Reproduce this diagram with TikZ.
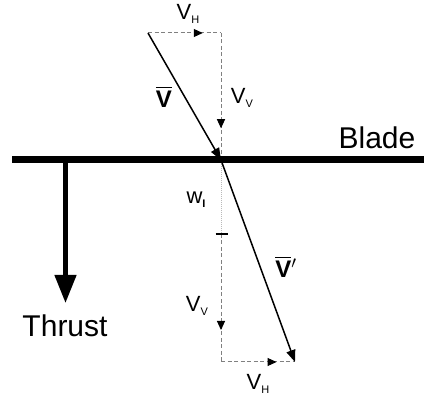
\documentclass[tikz,border=0pt]{standalone}
\usepackage{amsmath}
\usepackage{fontspec}
\setmainfont{Liberation Sans}
\usetikzlibrary{arrows.meta,decorations.markings}
\newcommand{\vsub}[2]{#1\raisebox{-0.35ex}{\fontsize{11}{12}\selectfont #2}}
\newcommand{\vvec}{$\overline{\text{\bfseries V}}$}
\tikzset{
	comp/.style={gray, line width=1pt, dash pattern=on 4pt off 2.5pt},
	midtip/.style={postaction={decorate}, decoration={markings,
		mark=at position 0.75 with {\arrow[black,solid]{Triangle[length=9pt,width=8pt]}}}},
	lbl/.style={inner sep=0pt, font=\fontsize{22}{24}\selectfont},
	vlbl/.style={inner sep=0pt, font=\fontsize{24}{26}\selectfont},
	big/.style={inner sep=0pt, font=\fontsize{30}{32}\selectfont}
}

\begin{document}
\begin{tikzpicture}[x=1pt,y=-1pt]
	\useasboundingbox (0,0) rectangle (424,401);
	\coordinate (A) at (148,33);
	\coordinate (B) at (221,33);
	\coordinate (C) at (221,160);
	\coordinate (I) at (221,234);
	\coordinate (D) at (221,362);
	\coordinate (E) at (295,362);
	\coordinate (bl) at (12,160);
	\coordinate (br) at (424,160);
	\coordinate (t0) at (65.5,160);
	\coordinate (t1) at (65.5,303);
	\coordinate (il) at (215.5,234);
	\coordinate (ir) at (227.5,234);
		\draw[comp,midtip] (A) -- (B);
		\draw[comp,midtip] (B) -- (C);
		\draw[gray!55, line width=1pt, densely dotted] (C) -- (I);
		\draw[comp,midtip] (I) -- (D);
		\draw[comp,midtip] (D) -- (E);
		\draw[line width=1.3pt] (il) -- (ir);
		\draw[line width=7pt] (bl) -- (br);
		\draw[line width=1.5pt, -{Triangle[length=12pt,width=9pt]}] (A) -- (C);
		\draw[line width=1.5pt, -{Triangle[length=12pt,width=9pt]}] (C) -- (E);
		\draw[line width=4.5pt, -{Triangle[length=28pt,width=21pt]}] (t0) -- (t1);
	\node[lbl] (vhtop) at (188,14) {\vsub{V}{H}};
	\node[lbl] (vvtop) at (242,98) {\vsub{V}{V}};
	\node[vlbl] (vbar) at (164,97) {\vvec};
	\node[lbl] (wi) at (196,200) {\vsub{w}{\bfseries I}};
	\node[vlbl] (vprime) at (286,267) {\vvec$'$};
	\node[lbl] (vvbot) at (197,306) {\vsub{V}{V}};
	\node[lbl] (vhbot) at (258,384) {\vsub{V}{H}};
	\node[big] (blade) at (377,138) {Blade};
	\node[big] (thrust) at (65,326) {Thrust};
\end{tikzpicture}
\end{document}
